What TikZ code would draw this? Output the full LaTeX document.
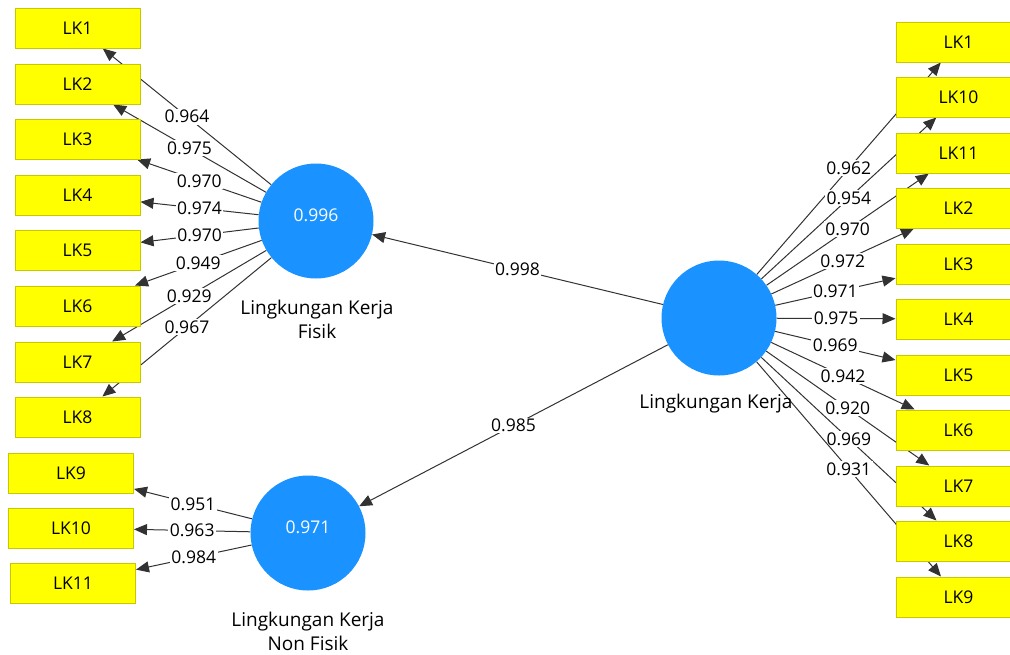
\documentclass[tikz,border=0pt]{standalone}
\usepackage{fontspec}
\setmainfont{Open Sans}
\usetikzlibrary{arrows.meta}
\pgfdeclarelayer{background}
\pgfsetlayers{background,main}
\definecolor{boxyellow}{RGB}{255,255,0}
\definecolor{boxedge}{RGB}{200,200,0}
\definecolor{lvblue}{RGB}{26,146,255}
\definecolor{linegray}{RGB}{50,50,50}
\tikzset{
  ind/.style={rectangle, draw=boxedge, line width=1pt, fill=boxyellow, minimum width=125pt, minimum height=40pt, inner sep=0pt, font=\fontsize{17.5}{20}\selectfont},
  lv/.style={circle, fill=lvblue, minimum size=115pt, inner sep=0pt},
  lvval/.style={text=white, font=\fontsize{17.5}{20}\selectfont},
  lvname/.style={align=center, font=\fontsize{19}{24}\selectfont},
  lbl/.style={fill=white, inner sep=1.5pt, font=\fontsize{17.5}{20}\selectfont},
  ld/.style={draw=linegray, line width=1pt, -{Triangle[length=13pt,width=11pt]}},
}
\begin{document}
\begin{tikzpicture}[x=1pt,y=-1pt]
\useasboundingbox (0,0) rectangle (1010,654);
% latent variables
\node[lv] (LKF) at (316,221) {};
\node[lvval] (LKFv) at (316,215) {0.996};
\node[lvname] (LKFn) at (317,319) {Lingkungan Kerja\\Fisik};
\node[lv] (LKNF) at (308,533) {};
\node[lvval] (LKNFv) at (308,527) {0.971};
\node[lvname] (LKNFn) at (308,631) {Lingkungan Kerja\\Non Fisik};
\node[lv] (LK) at (719,318) {};
\node[lvname] (LKn) at (716,404) {Lingkungan Kerja};
% left indicators
\node[ind] (L1) at (77.5,28) {LK1};
\node[ind] (L2) at (77.5,84) {LK2};
\node[ind] (L3) at (77.5,139) {LK3};
\node[ind] (L4) at (77.5,195) {LK4};
\node[ind] (L5) at (77.5,250) {LK5};
\node[ind] (L6) at (77.5,306) {LK6};
\node[ind] (L7) at (77.5,362) {LK7};
\node[ind] (L8) at (77.5,417) {LK8};
\node[ind] (L9) at (71,473) {LK9};
\node[ind] (L10) at (71,528) {LK10};
\node[ind] (L11) at (73,583) {LK11};
% right indicators
\node[ind] (R1) at (958.5,42) {LK1};
\node[ind] (R10) at (958.5,97) {LK10};
\node[ind] (R11) at (958.5,153) {LK11};
\node[ind] (R2) at (958.5,208) {LK2};
\node[ind] (R3) at (958.5,264) {LK3};
\node[ind] (R4) at (958.5,319) {LK4};
\node[ind] (R5) at (958.5,375) {LK5};
\node[ind] (R6) at (958.5,430) {LK6};
\node[ind] (R7) at (958.5,486) {LK7};
\node[ind] (R8) at (958.5,541) {LK8};
\node[ind] (R9) at (958.5,597) {LK9};
\begin{pgfonlayer}{background}
% structural paths
\draw[ld] (LK) -- node[lbl]{0.998} (LKF);
\draw[ld] (LK) -- node[lbl]{0.985} (LKNF);
% outer loadings LKF
\draw[ld] (LKF) -- node[lbl]{0.964} (L1);
\draw[ld] (LKF) -- node[lbl]{0.975} (L2);
\draw[ld] (LKF) -- node[lbl]{0.970} (L3);
\draw[ld] (LKF) -- node[lbl]{0.974} (L4);
\draw[ld] (LKF) -- node[lbl]{0.970} (L5);
\draw[ld] (LKF) -- node[lbl]{0.949} (L6);
\draw[ld] (LKF) -- node[lbl]{0.929} (L7);
\draw[ld] (LKF) -- node[lbl]{0.967} (L8);
% LKNF
\draw[ld] (LKNF) -- node[lbl]{0.951} (L9);
\draw[ld] (LKNF) -- node[lbl]{0.963} (L10);
\draw[ld] (LKNF) -- node[lbl]{0.984} (L11);
% LK
\draw[ld] (LK) -- node[lbl]{0.962} (R1);
\draw[ld] (LK) -- node[lbl]{0.954} (R10);
\draw[ld] (LK) -- node[lbl]{0.970} (R11);
\draw[ld] (LK) -- node[lbl]{0.972} (R2);
\draw[ld] (LK) -- node[lbl]{0.971} (R3);
\draw[ld] (LK) -- node[lbl]{0.975} (R4);
\draw[ld] (LK) -- node[lbl]{0.969} (R5);
\draw[ld] (LK) -- node[lbl]{0.942} (R6);
\draw[ld] (LK) -- node[lbl]{0.920} (R7);
\draw[ld] (LK) -- node[lbl]{0.969} (R8);
\draw[ld] (LK) -- node[lbl]{0.931} (R9);
\end{pgfonlayer}
\end{tikzpicture}
\end{document}
